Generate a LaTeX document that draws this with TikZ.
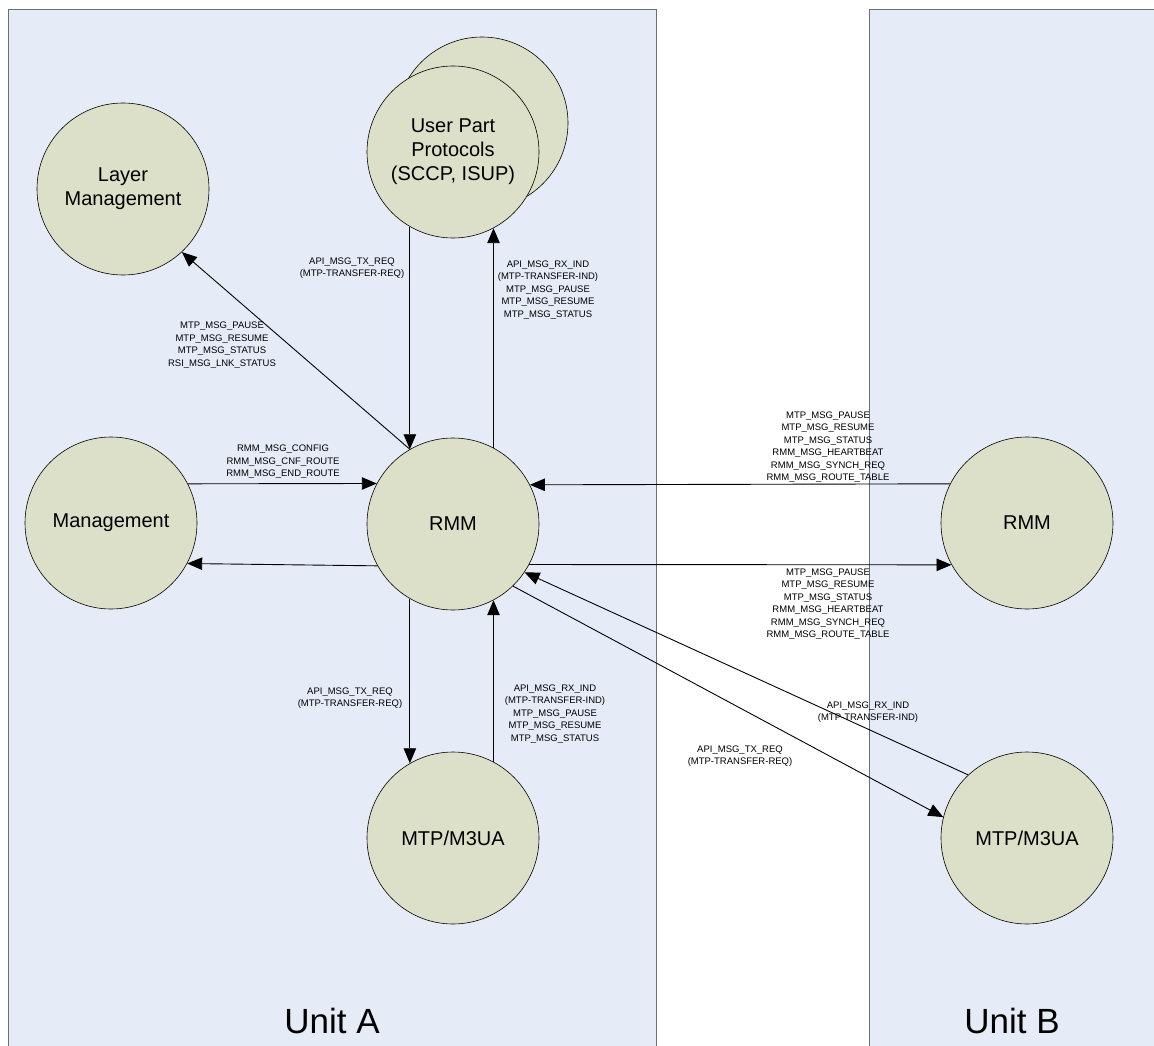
\documentclass[tikz,border=0pt]{standalone}
\usepackage{fontspec}
\setmainfont{Liberation Sans}
\usetikzlibrary{arrows.meta}
\definecolor{panel}{RGB}{230,236,247}
\definecolor{bubble}{RGB}{221,224,200}
\definecolor{frame}{RGB}{110,110,110}
\begin{document}
\begin{tikzpicture}[x=1pt,y=-1pt,
 bub/.style={circle,draw=black,fill=bubble,minimum size=172pt,inner sep=0pt,align=center,font=\fontsize{20}{24}\selectfont,line width=0.6pt},
 lbl/.style={align=center,font=\fontsize{9.5}{12.5}\selectfont,inner sep=0pt},
 arr/.style={line width=0.9pt,-{Triangle[length=15pt,width=12.5pt]}},
 panelbox/.style={draw=frame,fill=panel,line width=0.8pt},
 unitlbl/.style={font=\fontsize{35}{40}\selectfont,anchor=base,inner sep=0pt}]
\useasboundingbox (0,0) rectangle (1154,1046);
\path[panelbox] (8,1070) -- (8,9) -- (656,9) -- (656,1070);
\path[panelbox] (869,1070) -- (869,9) -- (1170,9) -- (1170,1070);
\node[unitlbl] (ua) at (332,1033) {Unit A};
\node[unitlbl] (ub) at (1012,1033) {Unit B};
% bubbles
\node[bub] (upback) at (482,123) {};
\node[bub] (up) at (453,152) {User Part\\Protocols\\(SCCP, ISUP)};
\node[bub] (lm) at (123,189) {Layer\\Management};
\node[bub] (mg) at (111,523) {Management};
\node[bub] (rmmA) at (453,524) {RMM};
\node[bub] (mtpA) at (453,838) {MTP/M3UA};
\node[bub] (rmmB) at (1027,523) {RMM};
\node[bub] (mtpB) at (1027,838) {MTP/M3UA};
% connectors
\draw[arr] (rmmA.120.6) -- (lm.-47.7);
\draw[arr] (up.-120) -- (rmmA.120);
\draw[arr] (rmmA.62) -- (up.-62);
\draw[arr] (mg.27.5) -- (rmmA.152.5);
\draw[arr] (rmmA.-151) -- (mg.-28.5);
\draw[arr] (rmmB.153.5) -- (rmmA.27.5);
\draw[arr] (rmmA.-28.5) -- (rmmB.-151.5);
\draw[arr] (rmmA.-120) -- (mtpA.120);
\draw[arr] (mtpA.62) -- (rmmA.-62);
\draw[arr] (rmmA.-46) -- (mtpB.166.5);
\draw[arr] (mtpB.133) -- (rmmA.-34);
% labels
\node[lbl] (l1) at (222,345) {MTP\_MSG\_PAUSE\\MTP\_MSG\_RESUME\\MTP\_MSG\_STATUS\\RSI\_MSG\_LNK\_STATUS};
\node[lbl] (l2) at (352,268) {API\_MSG\_TX\_REQ\\(MTP-TRANSFER-REQ)};
\node[lbl] (l3) at (548,290) {API\_MSG\_RX\_IND\\(MTP-TRANSFER-IND)\\MTP\_MSG\_PAUSE\\MTP\_MSG\_RESUME\\MTP\_MSG\_STATUS};
\node[lbl] (l4) at (283,462) {RMM\_MSG\_CONFIG\\RMM\_MSG\_CNF\_ROUTE\\RMM\_MSG\_END\_ROUTE};
\node[lbl] (l5) at (828,447) {MTP\_MSG\_PAUSE\\MTP\_MSG\_RESUME\\MTP\_MSG\_STATUS\\RMM\_MSG\_HEARTBEAT\\RMM\_MSG\_SYNCH\_REQ\\RMM\_MSG\_ROUTE\_TABLE};
\node[lbl] (l6) at (828,604) {MTP\_MSG\_PAUSE\\MTP\_MSG\_RESUME\\MTP\_MSG\_STATUS\\RMM\_MSG\_HEARTBEAT\\RMM\_MSG\_SYNCH\_REQ\\RMM\_MSG\_ROUTE\_TABLE};
\node[lbl] (l7) at (350,698) {API\_MSG\_TX\_REQ\\(MTP-TRANSFER-REQ)};
\node[lbl] (l8) at (555,714) {API\_MSG\_RX\_IND\\(MTP-TRANSFER-IND)\\MTP\_MSG\_PAUSE\\MTP\_MSG\_RESUME\\MTP\_MSG\_STATUS};
\node[lbl] (l9) at (740,756) {API\_MSG\_TX\_REQ\\(MTP-TRANSFER-REQ)};
\node[lbl] (l10) at (868,712) {API\_MSG\_RX\_IND\\(MTP-TRANSFER-IND)};
\end{tikzpicture}
\end{document}
